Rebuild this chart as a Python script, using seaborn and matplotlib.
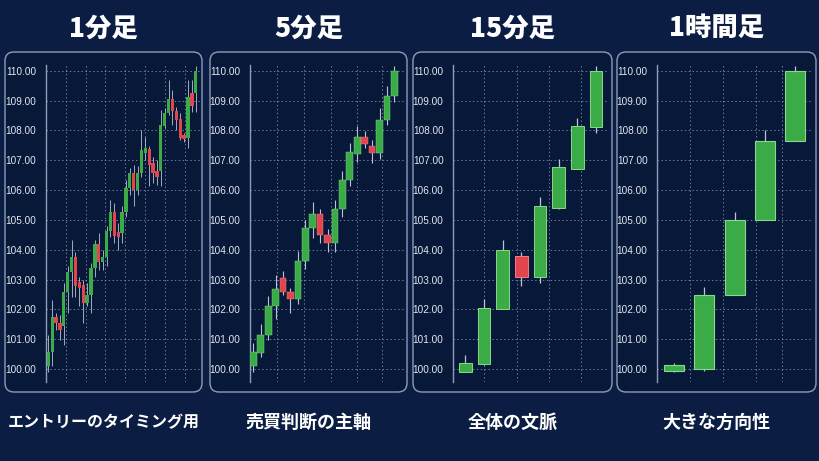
import numpy as np
import pandas as pd
import seaborn as sns
import matplotlib.pyplot as plt
from matplotlib.patches import FancyBboxPatch

# ---- data ----
titles = ["1分足", "5分足", "15分足", "1時間足"]
subtitles = ["エントリーのタイミング用", "売買判断の主軸", "全体の文脈", "大きな方向性"]
y_ticks = [100, 101, 102, 103, 104, 105, 106, 107, 108, 109, 110]

m1_open = [100.09, 100.56, 101.76, 101.54, 101.43, 102.57, 103.24, 103.77, 102.93, 102.82,
           102.21, 102.49, 103.38, 104.19, 103.58, 103.75, 104.63, 105.25, 104.58, 104.55,
           105.25, 106.08, 106.56, 106.00, 106.58, 107.23, 107.38, 106.90, 106.65, 106.65,
           108.15, 108.57, 109.05, 108.65, 108.37, 107.85, 107.76, 109.26, 109.26]
m1_high = [101.15, 102.32, 101.88, 101.82, 102.88, 103.44, 104.33, 103.94, 103.10, 102.99,
           102.88, 103.55, 104.33, 104.55, 104.00, 104.78, 105.67, 105.56, 104.89, 105.45,
           106.34, 106.73, 106.84, 106.79, 108.01, 107.79, 107.46, 107.12, 107.01, 108.68,
           108.74, 109.69, 109.35, 108.79, 108.57, 107.90, 109.69, 109.69, 110.16]
m1_low = [99.89, 100.09, 101.32, 100.98, 100.81, 101.88, 102.43, 102.43, 102.10, 101.54,
          102.10, 101.88, 103.10, 103.33, 103.33, 103.44, 104.44, 104.22, 104.00, 104.22,
          105.11, 105.84, 105.45, 105.84, 106.45, 107.01, 106.12, 106.23, 106.17, 106.12,
          108.07, 108.52, 108.18, 108.01, 107.68, 107.62, 107.40, 108.63, 108.63]
m1_close = [100.56, 101.76, 101.54, 101.32, 102.57, 103.24, 103.77, 102.79, 102.71, 102.21,
            102.49, 103.38, 104.19, 103.58, 103.75, 104.63, 105.25, 104.46, 104.44, 105.25,
            106.08, 106.56, 106.00, 106.58, 107.34, 107.40, 106.84, 106.56, 106.45, 108.18,
            108.57, 109.05, 108.65, 108.35, 107.73, 107.71, 109.13, 108.82, 110.00]

m5_open = [100.09, 100.54, 101.15, 102.10, 103.04, 102.58, 102.35, 103.63, 104.72, 105.19,
           104.48, 104.22, 105.36, 106.34, 107.22, 107.77, 107.49, 107.25, 108.35, 109.16]
m5_high = [100.89, 101.52, 102.46, 103.15, 103.29, 102.71, 103.96, 105.00, 105.61, 105.36,
           104.70, 105.67, 106.65, 107.57, 108.15, 107.98, 107.68, 108.74, 109.49, 110.16]
m5_low = [99.89, 100.42, 100.98, 101.67, 102.49, 101.88, 102.19, 103.35, 104.39, 104.22,
          103.94, 103.92, 105.11, 106.14, 106.95, 107.40, 106.90, 107.03, 108.18, 108.94]
m5_close = [100.56, 101.15, 102.10, 102.69, 102.58, 102.34, 103.63, 104.72, 105.19, 104.50,
            104.22, 105.36, 106.34, 107.27, 107.77, 107.53, 107.25, 108.35, 109.16, 110.00]

m15_open = [99.92, 100.18, 102.00, 103.79, 103.10, 105.40, 106.72, 108.10]
m15_high = [100.48, 102.35, 104.33, 103.94, 105.78, 107.03, 108.43, 110.15]
m15_low = [99.90, 100.15, 102.00, 102.80, 102.88, 105.38, 106.70, 107.90]
m15_close = [100.20, 102.04, 104.00, 103.10, 105.47, 106.76, 108.15, 110.00]

h1_open = [99.95, 100.00, 102.50, 105.00, 107.65]
h1_high = [100.20, 102.75, 105.25, 108.00, 110.15]
h1_low = [99.92, 99.95, 102.50, 105.00, 107.65]
h1_close = [100.15, 102.50, 105.00, 107.65, 110.00]

frames = [
    pd.DataFrame({"open": m1_open, "high": m1_high, "low": m1_low, "close": m1_close}),
    pd.DataFrame({"open": m5_open, "high": m5_high, "low": m5_low, "close": m5_close}),
    pd.DataFrame({"open": m15_open, "high": m15_high, "low": m15_low, "close": m15_close}),
    pd.DataFrame({"open": h1_open, "high": h1_high, "low": h1_low, "close": h1_close}),
]

# ---- layout / style ----
BG = "#0b1d43"
PANEL = "#081839"
BORDER = "#8c9cba"
GREEN, GREEN_EDGE = "#3aab47", "#86d98d"
RED, RED_EDGE = "#e2454d", "#f08087"
WICK = "#b9c3d3"
W, H = 820, 461

sns.set_style("dark", {"axes.facecolor": PANEL, "figure.facecolor": BG})
plt.rcParams["font.family"] = ["Noto Sans CJK JP", "DejaVu Sans"]

axes_left = [46, 250, 453.3, 657.3]
axes_w = 154
axes_top, axes_bot = 65, 382
panel_x = [(5, 202), (210, 407), (413, 612), (617, 816)]
panel_top, panel_bot = 52, 392
xlims = [(-0.6, 39.1), (-0.45, 20.3), (-0.64, 7.6), (-0.56, 4.54)]
vgrid = [[4.5, 9.7, 14.7, 19.7, 24.9, 30.1, 35.3],
         [3.2, 6.8, 10.4, 13.9, 17.4],
         [1.0, 2.75, 4.5, 6.2],
         [0.53, 1.6, 2.7, 3.57]]
body_w = [0.85, 0.9, 0.68, 0.66]
wick_lw = [0.6, 0.8, 0.9, 0.9]
edge_lw = [0.0, 0.3, 0.7, 0.8]
sub_size = [11.5, 13, 13, 13]

fig = plt.figure(figsize=(W / 100, H / 100), dpi=100)
fig.patch.set_facecolor(BG)

for i, df in enumerate(frames):
    x0, x1 = panel_x[i]
    box = FancyBboxPatch(
        (x0 / 100, (H - panel_bot) / 100), (x1 - x0) / 100, (panel_bot - panel_top) / 100,
        boxstyle="round,pad=0,rounding_size=0.09", transform=fig.dpi_scale_trans,
        facecolor=PANEL, edgecolor=BORDER, linewidth=1.0, zorder=-5,
    )
    fig.patches.append(box)

    ax = fig.add_axes([axes_left[i] / W, 1 - axes_bot / H, axes_w / W, (axes_bot - axes_top) / H])
    ax.set_zorder(1)
    ax.set_facecolor("none")
    x = np.arange(len(df))
    up = df["close"] >= df["open"]
    ax.vlines(x, df["low"], df["high"], color=WICK, linewidth=wick_lw[i], zorder=2)
    ax.bar(
        x, (df["close"] - df["open"]).abs(), bottom=df[["open", "close"]].min(axis=1),
        width=body_w[i], color=np.where(up, GREEN, RED),
        edgecolor=np.where(up, GREEN_EDGE, RED_EDGE), linewidth=edge_lw[i], zorder=3,
    )
    ax.set_xlim(*xlims[i])
    ax.set_ylim(99.57, 110.19)
    ax.set_yticks(y_ticks)
    ax.set_yticklabels([f"{v:.2f}" for v in y_ticks], family=["Liberation Sans", "DejaVu Sans"])
    ax.set_xticks(vgrid[i])
    ax.set_xticklabels([])
    ax.tick_params(axis="both", length=0)
    ax.tick_params(axis="y", pad=7, labelsize=7.2, labelcolor="#e2e8f1")
    ax.grid(True, linestyle=(0, (1.5, 2.5)), color="#8e9cb6", linewidth=0.7, alpha=0.75)
    for side in ["top", "right", "bottom"]:
        ax.spines[side].set_visible(False)
    ax.spines["left"].set_color("#8d9dba")
    ax.spines["left"].set_linewidth(1.0)

    cx = (x0 + x1) / 2 / W
    fig.text(cx, 1 - 28 / H, titles[i], ha="center", va="center", color="white",
             fontsize=19, fontweight="heavy")
    fig.text(cx, 1 - 422 / H, subtitles[i], ha="center", va="center", color="white",
             fontsize=sub_size[i], fontweight="bold")

fig.savefig("out.png", dpi=100, facecolor=BG)
